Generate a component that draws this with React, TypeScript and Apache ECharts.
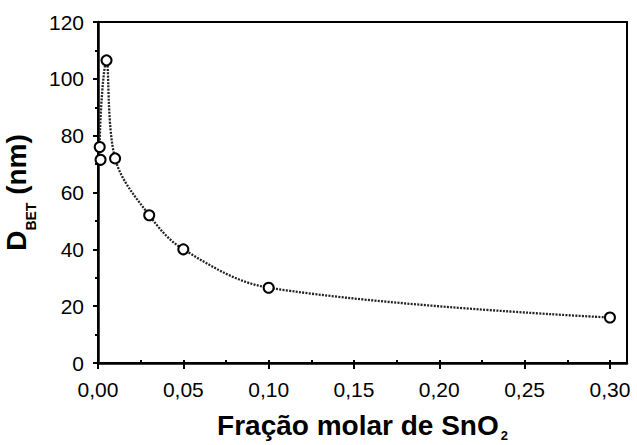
import React, { useEffect, useRef } from 'react';
import * as echarts from 'echarts';

// Data
const molarFraction = [0.0015, 0.001, 0.005, 0.01, 0.03, 0.05, 0.1, 0.3];
const dBet = [71.5, 76, 106.5, 72, 52, 40, 26.5, 16];
const xMajorStep = 0.05;
const xMinorStep = 0.025;
const yStep = 20;

export default function App() {
  const ref = useRef<HTMLDivElement>(null);
  useEffect(() => {
    const chart = echarts.init(ref.current!, null, { renderer: 'svg' });
    const font = 'Arial, "Liberation Sans", sans-serif';
    const fmt = (v: number) => {
      const k = Math.round(v / xMajorStep);
      if (Math.abs(v - k * xMajorStep) > 1e-9) return '';
      return (k * xMajorStep).toFixed(2).replace('.', ',');
    };
    chart.setOption({
      animation: false,
      backgroundColor: '#fff',
      grid: {
        left: 98, right: 10, top: 22, bottom: 82,
        outerBoundsMode: 'none',
        containLabel: false,
        show: true, borderColor: '#000', borderWidth: 2, backgroundColor: 'transparent',
      },
      xAxis: [
        {
          type: 'value', min: 0, max: 0.31, interval: xMajorStep,
          axisLine: { show: true, lineStyle: { color: '#000', width: 2.5 } },
          axisTick: { show: true, length: 6, lineStyle: { color: '#000', width: 2 } },
          splitLine: { show: false },
          axisLabel: { color: '#000', fontSize: 21, fontFamily: font, margin: 16, formatter: fmt, showMaxLabel: false },
          name: '{a|Fração molar de SnO}{b|2}',
          nameLocation: 'middle',
          nameGap: 48,
          nameTextStyle: {
            rich: {
              a: { fontSize: 28, fontWeight: 'bold', fontFamily: font, color: '#000', lineHeight: 30, verticalAlign: 'top' },
              b: { fontSize: 13, fontWeight: 'bold', fontFamily: font, color: '#000', lineHeight: 13, verticalAlign: 'top', padding: [18, 0, 0, 2] },
            },
          },
        },
        {
          type: 'value', min: 0, max: 0.31, interval: xMinorStep, position: 'bottom',
          axisLine: { show: false },
          axisTick: { show: true, inside: true, length: 3, lineStyle: { color: '#000', width: 2 } },
          axisLabel: { show: false },
          splitLine: { show: false },
        },
      ],
      yAxis: {
        type: 'value', min: 0, max: 120, interval: yStep,
        axisLine: { show: true, lineStyle: { color: '#000', width: 2.5 } },
        axisTick: { show: true, length: 5, lineStyle: { color: '#000', width: 2 } },
        minorTick: { show: true, splitNumber: 2, length: 3, lineStyle: { color: '#000', width: 2 } },
        splitLine: { show: false },
        axisLabel: { color: '#000', fontSize: 21, fontFamily: font, margin: 14 },
        name: '{a|D}{b|BET}{a| (nm)}',
        nameLocation: 'middle',
        nameRotate: 90,
        nameGap: 54,
        nameTextStyle: {
          rich: {
            a: { fontSize: 28, fontWeight: 'bold', fontFamily: font, color: '#000', lineHeight: 32, verticalAlign: 'top' },
            b: { fontSize: 14, fontWeight: 'bold', fontFamily: font, color: '#000', lineHeight: 14, verticalAlign: 'top', padding: [22, 0, 0, 0] },
          },
        },
      },
      series: [
        {
          type: 'line',
          xAxisIndex: 0,
          data: molarFraction.map((x, i) => [x, dBet[i]]),
          smooth: 0.35,
          symbol: 'circle',
          symbolSize: 10,
          lineStyle: { color: '#222', width: 2.3, type: [2, 1.3] },
          itemStyle: { color: '#fff', borderColor: '#000', borderWidth: 2 },
          z: 3,
        },
      ],
    });
    return () => chart.dispose();
  }, []);
  return <div ref={ref} style={{ position: 'absolute', left: 0, top: 0, width: 637, height: 445 }} />;
}
